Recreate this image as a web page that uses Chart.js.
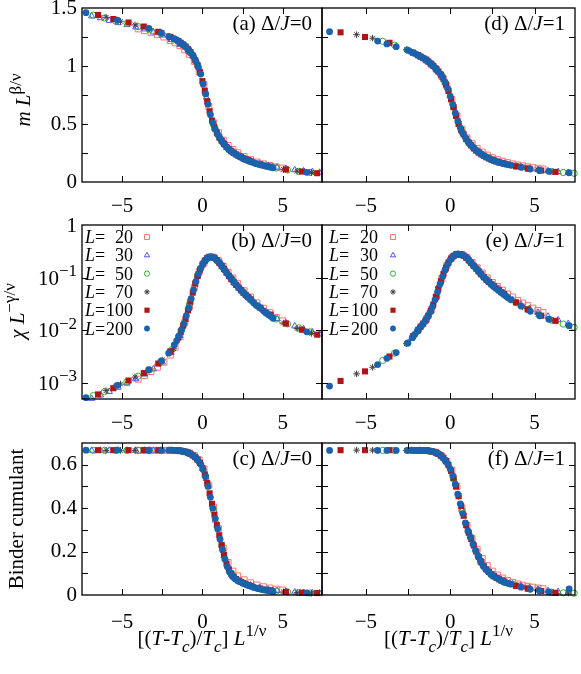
<!DOCTYPE html>
<html>
<head>
<meta charset="utf-8">
<script src="https://cdn.jsdelivr.net/npm/chart.js@4.4.1/dist/chart.umd.min.js"></script>
<style>
  html, body { margin: 0; padding: 0; background: #fff; }
  #fig { position: relative; width: 581px; height: 674px; overflow: hidden; }
  #fig canvas { position: absolute; left: 0; top: 0; }
</style>
</head>
<body>
<div id="fig">
  <canvas id="pa" width="581" height="674"></canvas>
  <canvas id="pb" width="581" height="674"></canvas>
  <canvas id="pc" width="581" height="674"></canvas>
  <canvas id="pd" width="581" height="674"></canvas>
  <canvas id="pe" width="581" height="674"></canvas>
  <canvas id="pf" width="581" height="674"></canvas>
</div>
<script>
/**
 * Finite-size scaling collapse, Delta/J = 0 (left) and Delta/J = 1 (right)
 */

// Tick values
const xTickLabels = [-5, 0, 5];
const xTickMarks = [-5, -2.5, 0, 2.5, 5];
const mTickLabels = [0, 0.5, 1, 1.5];
const mTickMarks = [0.25, 0.5, 0.75, 1, 1.25];
const chiTickLabels = [1, 0.1, 0.01, 0.001];
const chiTickMarks = [0.1, 0.01, 0.001];
const uTickLabels = [0, 0.2, 0.4, 0.6];
const uTickMarks = [0.1, 0.2, 0.3, 0.4, 0.5, 0.6];

// System sizes (legend)
const sizes = ['20', '30', '50', '70', '100', '200'];

// ---- Delta/J = 0 ----
const xs0_20 = [-4.0, -3.6, -3.2, -2.8, -2.4, -2.0, -1.7, -1.4, -1.1, -0.8, -0.5, -0.2, 0.1, 0.4, 0.7, 1.0, 1.3, 1.6, 1.9, 2.2, 2.6, 3.0, 3.4, 3.8, 4.2, 4.6, 5.0];
const m0_20 = [1.32, 1.305, 1.29, 1.27, 1.25, 1.22, 1.20, 1.175, 1.14, 1.10, 1.04, 0.95, 0.84, 0.65, 0.51, 0.425, 0.36, 0.315, 0.28, 0.252, 0.219, 0.193, 0.172, 0.156, 0.142, 0.13, 0.12];
const chi0_20 = [1.19e-3, 1.39e-3, 1.66e-3, 2.0e-3, 2.5e-3, 3.4e-3, 4.8e-3, 7.6e-3, 0.014, 0.0285, 0.065, 0.13, 0.19, 0.245, 0.245, 0.21, 0.164, 0.127, 0.099, 0.077, 0.0565, 0.043, 0.0333, 0.0263, 0.0218, 0.0176, 0.0152];
const u0_20 = [0.666, 0.666, 0.666, 0.666, 0.666, 0.666, 0.665, 0.664, 0.66, 0.654, 0.642, 0.622, 0.58, 0.505, 0.405, 0.305, 0.215, 0.15, 0.11, 0.088, 0.07, 0.056, 0.046, 0.038, 0.032, 0.027, 0.023];

const xs0_30 = [-6.9, -6.35, -5.8, -5.25, -4.7, -4.15, -3.6, -3.05, -2.5, -1.95, -1.4, -0.85, -0.3, 0.25, 0.8, 1.35, 1.9, 2.45, 3.0, 3.55, 4.1, 4.65, 5.2, 5.75, 6.3, 6.85, 7.3];
const m0_30 = [1.43, 1.414, 1.392, 1.372, 1.356, 1.335, 1.318, 1.292, 1.265, 1.227, 1.185, 1.125, 1.01, 0.73, 0.46, 0.34, 0.265, 0.218, 0.185, 0.16, 0.142, 0.127, 0.115, 0.104, 0.095, 0.088, 0.083];
const chi0_30 = [5.1e-4, 5.9e-4, 6.9e-4, 8.3e-4, 9.9e-4, 1.2e-3, 1.48e-3, 1.85e-3, 2.5e-3, 3.8e-3, 7.9e-3, 0.026, 0.108, 0.225, 0.23, 0.152, 0.093, 0.059, 0.04, 0.0286, 0.0212, 0.0166, 0.0139, 0.0121, 0.0106, 0.0093, 0.0085];
const u0_30 = [0.666, 0.666, 0.666, 0.666, 0.666, 0.666, 0.666, 0.666, 0.666, 0.666, 0.664, 0.655, 0.622, 0.535, 0.345, 0.18, 0.09, 0.06, 0.045, 0.034, 0.026, 0.02, 0.016, 0.013, 0.011, 0.01, 0.009];

const xs0_50 = [-6.8, -6.1, -5.4, -4.7, -4.0, -3.3, -2.6, -1.9, -1.3, -0.8, -0.3, 0.2, 0.7, 1.2, 1.8, 2.5, 3.2, 3.9, 4.6, 5.3, 6.0, 6.7];
const m0_50 = [1.438, 1.414, 1.387, 1.366, 1.34, 1.315, 1.28, 1.234, 1.19, 1.128, 1.01, 0.76, 0.49, 0.355, 0.265, 0.208, 0.168, 0.14, 0.12, 0.104, 0.092, 0.083];
const chi0_50 = [5.8e-4, 6.9e-4, 8.6e-4, 1.06e-3, 1.35e-3, 1.78e-3, 2.55e-3, 4.3e-3, 0.0102, 0.032, 0.108, 0.215, 0.24, 0.17, 0.098, 0.055, 0.034, 0.0228, 0.0165, 0.0133, 0.0112, 0.0094];
const u0_50 = [0.666, 0.666, 0.666, 0.666, 0.666, 0.666, 0.666, 0.666, 0.663, 0.654, 0.622, 0.548, 0.388, 0.228, 0.1, 0.058, 0.037, 0.025, 0.018, 0.014, 0.011, 0.009];

const xs0_70 = [-6.0, -5.1, -4.2, -3.3, -2.5, -1.8, -1.2, -0.7, -0.2, 0.3, 0.8, 1.3, 1.9, 2.6, 3.4, 4.2, 5.05, 5.9, 6.8];
const m0_70 = [1.42, 1.385, 1.355, 1.322, 1.282, 1.238, 1.185, 1.11, 0.97, 0.70, 0.455, 0.335, 0.258, 0.198, 0.158, 0.131, 0.109, 0.093, 0.081];
const chi0_70 = [7.2e-4, 9.6e-4, 1.3e-3, 1.78e-3, 2.75e-3, 4.5e-3, 0.0118, 0.04, 0.13, 0.235, 0.23, 0.148, 0.089, 0.05, 0.03, 0.0198, 0.0138, 0.0109, 0.0088];
const u0_70 = [0.666, 0.666, 0.666, 0.666, 0.666, 0.666, 0.662, 0.648, 0.61, 0.515, 0.352, 0.195, 0.086, 0.052, 0.031, 0.02, 0.014, 0.011, 0.009];

const xs0_100 = [-6.5, -5.55, -4.6, -3.65, -2.75, -2.0, -1.5, -1.35, -1.2, -1.05, -0.9, -0.75, -0.6, -0.45, -0.3, -0.15, 0, 0.15, 0.3, 0.45, 0.6, 0.75, 0.9, 1.05, 1.2, 1.35, 1.5, 1.65, 1.8, 1.95, 2.1, 2.25, 2.4, 2.55, 2.7, 2.85, 3.0, 3.6, 4.25, 5.2, 6.2, 7.15];
const m0_100 = [1.44, 1.405, 1.375, 1.34, 1.295, 1.25, 1.215, 1.2, 1.185, 1.168, 1.145, 1.12, 1.09, 1.05, 1.005, 0.945, 0.87, 0.785, 0.695, 0.61, 0.53, 0.47, 0.425, 0.385, 0.355, 0.327, 0.302, 0.282, 0.265, 0.25, 0.238, 0.226, 0.215, 0.205, 0.196, 0.187, 0.179, 0.153, 0.133, 0.108, 0.09, 0.076];
const chi0_100 = [6.1e-4, 8.0e-4, 1.12e-3, 1.55e-3, 2.35e-3, 4.0e-3, 7.3e-3, 9.4e-3, 0.0123, 0.0165, 0.024, 0.035, 0.052, 0.077, 0.107, 0.142, 0.177, 0.21, 0.235, 0.248, 0.248, 0.237, 0.216, 0.192, 0.168, 0.146, 0.125, 0.108, 0.094, 0.082, 0.073, 0.065, 0.058, 0.052, 0.047, 0.043, 0.039, 0.027, 0.02, 0.0135, 0.0103, 0.0083];
const u0_100 = [0.667, 0.667, 0.667, 0.667, 0.667, 0.667, 0.665, 0.664, 0.662, 0.659, 0.655, 0.65, 0.643, 0.635, 0.624, 0.608, 0.585, 0.555, 0.515, 0.468, 0.42, 0.37, 0.322, 0.275, 0.23, 0.185, 0.145, 0.118, 0.098, 0.084, 0.074, 0.066, 0.06, 0.055, 0.05, 0.046, 0.042, 0.03, 0.022, 0.014, 0.011, 0.009];

const xs0_200 = [-7.25, -5.3, -3.35, -2.55, -2.1, -1.75, -1.6, -1.45, -1.3, -1.15, -1.0, -0.85, -0.7, -0.55, -0.4, -0.25, -0.1, 0.05, 0.2, 0.35, 0.5, 0.65, 0.8, 0.95, 1.1, 1.25, 1.4, 1.55, 1.7, 1.85, 2.0, 2.15, 2.3, 2.45, 2.6, 2.75, 2.9, 3.05, 3.2, 3.35, 3.5, 3.65, 3.8, 3.95, 4.1, 4.25, 4.4, 6.5];
const m0_200 = [1.46, 1.395, 1.325, 1.285, 1.255, 1.235, 1.225, 1.21, 1.195, 1.18, 1.16, 1.14, 1.11, 1.08, 1.04, 0.99, 0.93, 0.845, 0.76, 0.67, 0.58, 0.51, 0.455, 0.41, 0.375, 0.345, 0.318, 0.295, 0.276, 0.26, 0.245, 0.233, 0.22, 0.209, 0.199, 0.19, 0.181, 0.173, 0.165, 0.158, 0.152, 0.147, 0.142, 0.137, 0.132, 0.127, 0.123, 0.083];
const chi0_200 = [5.3e-4, 9.1e-4, 1.8e-3, 2.65e-3, 3.7e-3, 5.3e-3, 6.4e-3, 7.9e-3, 0.0102, 0.0135, 0.019, 0.027, 0.04, 0.059, 0.085, 0.118, 0.152, 0.186, 0.217, 0.24, 0.25, 0.245, 0.23, 0.208, 0.184, 0.16, 0.139, 0.12, 0.104, 0.091, 0.08, 0.071, 0.063, 0.056, 0.05, 0.045, 0.041, 0.037, 0.033, 0.03, 0.028, 0.026, 0.0235, 0.0215, 0.02, 0.0185, 0.017, 0.0094];
const u0_200 = [0.667, 0.667, 0.667, 0.667, 0.667, 0.666, 0.666, 0.665, 0.663, 0.661, 0.658, 0.654, 0.648, 0.641, 0.632, 0.618, 0.602, 0.578, 0.545, 0.5, 0.45, 0.4, 0.352, 0.305, 0.257, 0.21, 0.165, 0.13, 0.105, 0.088, 0.077, 0.069, 0.062, 0.057, 0.052, 0.047, 0.043, 0.039, 0.035, 0.032, 0.029, 0.026, 0.024, 0.022, 0.02, 0.018, 0.016, 0.01];

// ---- Delta/J = 1 ----
const xs1_20 = [-1.4, -1.1, -0.8, -0.5, -0.2, 0.1, 0.4, 0.7, 1.0, 1.3, 1.6, 1.9, 2.2, 2.5, 2.8, 3.1, 3.4, 3.7, 4.0, 4.3, 4.6, 4.9, 5.2, 5.5];
const m1_20 = [1.05, 1.012, 0.968, 0.91, 0.83, 0.71, 0.57, 0.455, 0.38, 0.33, 0.29, 0.258, 0.232, 0.21, 0.193, 0.179, 0.167, 0.156, 0.147, 0.139, 0.131, 0.124, 0.118, 0.112];
const chi1_20 = [0.0165, 0.025, 0.045, 0.095, 0.17, 0.24, 0.28, 0.275, 0.24, 0.195, 0.155, 0.123, 0.099, 0.081, 0.068, 0.058, 0.049, 0.043, 0.037, 0.033, 0.0295, 0.0265, 0.024, 0.022];
const u1_20 = [0.665, 0.661, 0.654, 0.64, 0.615, 0.575, 0.5, 0.4, 0.32, 0.26, 0.21, 0.168, 0.135, 0.11, 0.092, 0.078, 0.067, 0.058, 0.051, 0.045, 0.04, 0.036, 0.032, 0.029];

const xs1_30 = [-2.3, -1.8, -1.3, -0.8, -0.3, 0.2, 0.7, 1.2, 1.7, 2.2, 2.7, 3.2, 3.7, 4.2, 4.7, 5.2, 5.8, 6.4, 7.0];
const m1_30 = [1.12, 1.085, 1.04, 0.975, 0.855, 0.645, 0.435, 0.325, 0.255, 0.21, 0.18, 0.158, 0.141, 0.128, 0.116, 0.106, 0.096, 0.088, 0.081];
const chi1_30 = [7.0e-3, 0.0115, 0.0195, 0.045, 0.145, 0.26, 0.27, 0.2, 0.13, 0.088, 0.064, 0.049, 0.038, 0.031, 0.026, 0.022, 0.0185, 0.0158, 0.0135];
const u1_30 = [0.666, 0.666, 0.664, 0.655, 0.62, 0.535, 0.39, 0.27, 0.175, 0.115, 0.083, 0.064, 0.051, 0.041, 0.033, 0.026, 0.02, 0.015, 0.012];

const xs1_50 = [-4.0, -3.3, -2.55, -1.9, -1.3, -0.8, -0.3, 0.2, 0.7, 1.2, 1.8, 2.5, 3.2, 3.9, 4.6, 5.3, 6.0, 6.7, 7.35];
const m1_50 = [1.213, 1.18, 1.14, 1.093, 1.038, 0.97, 0.855, 0.645, 0.435, 0.325, 0.245, 0.19, 0.16, 0.137, 0.117, 0.1, 0.09, 0.082, 0.075];
const chi1_50 = [2.7e-3, 3.7e-3, 5.7e-3, 9.8e-3, 0.019, 0.043, 0.14, 0.255, 0.27, 0.195, 0.118, 0.072, 0.048, 0.034, 0.025, 0.0195, 0.0157, 0.0132, 0.0114];
const u1_50 = [0.666, 0.666, 0.666, 0.666, 0.664, 0.655, 0.62, 0.535, 0.39, 0.27, 0.15, 0.088, 0.058, 0.044, 0.031, 0.02, 0.013, 0.01, 0.008];

const xs1_70 = [-5.55, -4.6, -2.6, -1.9, -1.3, -0.7, -0.1, 0.5, 1.1, 1.8, 2.6, 3.4, 4.3, 5.2, 6.1, 7.0];
const m1_70 = [1.27, 1.24, 1.14, 1.093, 1.038, 0.95, 0.785, 0.5, 0.34, 0.245, 0.186, 0.151, 0.125, 0.104, 0.089, 0.078];
const chi1_70 = [1.5e-3, 2.0e-3, 5.6e-3, 9.8e-3, 0.019, 0.065, 0.195, 0.28, 0.214, 0.118, 0.069, 0.043, 0.028, 0.0205, 0.0155, 0.0125];
const u1_70 = [0.667, 0.667, 0.666, 0.666, 0.664, 0.648, 0.598, 0.455, 0.287, 0.158, 0.087, 0.055, 0.037, 0.022, 0.013, 0.009];

const xs1_100 = [-6.5, -5.05, -3.6, -2.2, -1.9, -1.75, -1.6, -1.45, -1.3, -1.15, -1.0, -0.85, -0.7, -0.55, -0.4, -0.25, -0.1, 0.05, 0.2, 0.35, 0.5, 0.65, 0.8, 0.95, 1.1, 1.25, 1.4, 1.55, 1.7, 1.85, 2.0, 2.15, 2.3, 2.45, 2.6, 2.75, 2.9, 3.05, 3.2, 3.9, 4.6, 5.4, 6.25];
const m1_100 = [1.29, 1.25, 1.2, 1.115, 1.093, 1.08, 1.068, 1.055, 1.038, 1.02, 1.0, 0.977, 0.952, 0.925, 0.89, 0.84, 0.785, 0.715, 0.645, 0.57, 0.5, 0.45, 0.41, 0.37, 0.34, 0.315, 0.29, 0.27, 0.253, 0.238, 0.225, 0.213, 0.203, 0.193, 0.185, 0.177, 0.17, 0.164, 0.158, 0.135, 0.116, 0.099, 0.087];
const chi1_100 = [1.1e-3, 1.67e-3, 3.2e-3, 7.8e-3, 0.0102, 0.0118, 0.0135, 0.0155, 0.019, 0.0235, 0.031, 0.043, 0.061, 0.086, 0.117, 0.155, 0.195, 0.23, 0.26, 0.275, 0.28, 0.275, 0.262, 0.24, 0.214, 0.19, 0.167, 0.148, 0.131, 0.116, 0.102, 0.092, 0.083, 0.075, 0.069, 0.063, 0.058, 0.053, 0.049, 0.034, 0.025, 0.019, 0.0152];
const u1_100 = [0.667, 0.667, 0.667, 0.666, 0.666, 0.666, 0.665, 0.665, 0.664, 0.662, 0.66, 0.656, 0.65, 0.642, 0.632, 0.617, 0.598, 0.572, 0.54, 0.5, 0.455, 0.41, 0.365, 0.322, 0.287, 0.258, 0.228, 0.2, 0.175, 0.152, 0.132, 0.118, 0.106, 0.096, 0.087, 0.079, 0.073, 0.067, 0.062, 0.042, 0.029, 0.018, 0.01];

const xs1_200 = [-7.15, -4.3, -3.75, -3.2, -2.5, -2.25, -2.1, -1.95, -1.8, -1.65, -1.5, -1.35, -1.2, -1.05, -0.9, -0.75, -0.6, -0.45, -0.3, -0.15, 0, 0.15, 0.3, 0.45, 0.6, 0.75, 0.9, 1.05, 1.2, 1.35, 1.5, 1.65, 1.8, 1.95, 2.1, 2.25, 2.4, 2.55, 2.7, 2.85, 3.0, 3.15, 3.3, 3.45, 3.6, 4.2, 4.75, 5.3, 5.85, 7.05];
const m1_200 = [1.296, 1.215, 1.19, 1.167, 1.135, 1.118, 1.107, 1.096, 1.084, 1.072, 1.06, 1.044, 1.026, 1.006, 0.985, 0.96, 0.935, 0.903, 0.86, 0.805, 0.74, 0.67, 0.595, 0.525, 0.465, 0.42, 0.383, 0.35, 0.323, 0.3, 0.278, 0.261, 0.245, 0.23, 0.218, 0.206, 0.196, 0.187, 0.179, 0.171, 0.165, 0.159, 0.154, 0.149, 0.144, 0.127, 0.112, 0.1, 0.092, 0.08];
const chi1_200 = [8.8e-4, 2.25e-3, 2.95e-3, 3.8e-3, 5.8e-3, 7.3e-3, 8.4e-3, 9.8e-3, 0.0113, 0.0128, 0.0148, 0.0178, 0.022, 0.028, 0.038, 0.054, 0.076, 0.105, 0.14, 0.18, 0.218, 0.25, 0.27, 0.28, 0.278, 0.268, 0.25, 0.228, 0.2, 0.175, 0.155, 0.137, 0.121, 0.105, 0.095, 0.085, 0.077, 0.07, 0.064, 0.058, 0.053, 0.049, 0.045, 0.041, 0.038, 0.029, 0.023, 0.019, 0.0163, 0.0123];
const u1_200 = [0.666, 0.666, 0.666, 0.666, 0.666, 0.666, 0.666, 0.666, 0.666, 0.666, 0.666, 0.665, 0.664, 0.661, 0.657, 0.652, 0.645, 0.634, 0.622, 0.605, 0.58, 0.55, 0.51, 0.465, 0.42, 0.375, 0.332, 0.295, 0.265, 0.235, 0.205, 0.18, 0.158, 0.135, 0.12, 0.108, 0.097, 0.088, 0.081, 0.074, 0.067, 0.062, 0.057, 0.053, 0.05, 0.036, 0.026, 0.019, 0.014, 0.028];

// ---- styling ----
const W = 581, H = 674;
const FONT = '"Liberation Serif", "Times New Roman", serif';
const FS = 21;

const seriesStyle = [
  { pointStyle: 'rect', radius: 4.2, color: '#ff7373', fill: false },
  { pointStyle: 'triangle', radius: 3.6, color: '#5050ff', fill: false },
  { pointStyle: 'circle', radius: 3.1, color: '#30b030', fill: false },
  { pointStyle: 'star', radius: 3.3, color: '#404040', fill: false },
  { pointStyle: 'rect', radius: 4.3, color: '#b01414', fill: true },
  { pointStyle: 'circle', radius: 3.4, color: '#1a62ab', fill: true }
];

function makeDatasets(xsList, ysList) {
  return xsList.map((xs, k) => {
    const st = seriesStyle[k];
    return {
      label: 'L=' + sizes[k],
      data: xs.map((x, i) => ({ x, y: ysList[k][i] })),
      showLine: false,
      clip: false,
      order: 5 - k,
      pointStyle: st.pointStyle,
      pointRadius: st.radius,
      pointHoverRadius: st.radius,
      pointBorderColor: st.color,
      pointBackgroundColor: st.fill ? st.color : 'rgba(0,0,0,0)',
      pointBorderWidth: st.fill ? 0 : 1
    };
  });
}

function fmt(v) {
  return v < 0 ? '\u2212' + Math.abs(v) : String(v);
}

function setFont(ctx, size, italic) {
  ctx.font = (italic ? 'italic ' : '') + size + 'px ' + FONT;
}

// parts: [text, flags]; flags: i = italic, ^ = superscript, _ = subscript
function richText(ctx, parts, x, y, align, size) {
  const small = Math.round(size * 0.8);
  const segs = parts.map(([t, f = '']) => {
    const sup = f.includes('^'), sub = f.includes('_'), it = f.includes('i');
    const sz = sup || sub ? small : size;
    setFont(ctx, sz, it);
    return { t, sz, it, dy: sup ? -size * 0.42 : sub ? size * 0.33 : 0, w: ctx.measureText(t).width };
  });
  const total = segs.reduce((s, p) => s + p.w, 0);
  let cx = align === 'center' ? x - total / 2 : align === 'right' ? x - total : x;
  ctx.textAlign = 'left';
  ctx.textBaseline = 'alphabetic';
  segs.forEach(p => {
    setFont(ctx, p.sz, p.it);
    ctx.fillText(p.t, cx, y + p.dy);
    cx += p.w;
  });
}

const xTitle = [['[(', ''], ['T', 'i'], ['-', ''], ['T', 'i'], ['c', 'i_'], [')/', ''], ['T', 'i'], ['c', 'i_'], ['] ', ''], ['L', 'i'], ['1/\u03bd', '^']];

function decor(p) {
  return {
    id: 'decor',
    afterDraw(chart) {
      const { ctx, chartArea: a } = chart;
      const xs = chart.scales.x, ys = chart.scales.y;
      ctx.save();
      ctx.strokeStyle = '#000';
      ctx.fillStyle = '#000';

      // inward ticks on all four sides
      ctx.lineWidth = 1;
      ctx.beginPath();
      xTickMarks.forEach(v => {
        const px = Math.round(xs.getPixelForValue(v)) + 0.5;
        ctx.moveTo(px, a.bottom); ctx.lineTo(px, a.bottom - 6);
        ctx.moveTo(px, a.top); ctx.lineTo(px, a.top + 6);
      });
      p.yMarks.forEach(v => {
        const py = Math.round(ys.getPixelForValue(v)) + 0.5;
        ctx.moveTo(a.left, py); ctx.lineTo(a.left + 6, py);
        ctx.moveTo(a.right, py); ctx.lineTo(a.right - 6, py);
      });
      ctx.stroke();
      ctx.lineWidth = 1.3;
      ctx.strokeRect(a.left, a.top, a.right - a.left, a.bottom - a.top);

      // log tick labels
      if (p.logLabels) {
        chiTickLabels.forEach(v => {
          const py = ys.getPixelForValue(v);
          const e = Math.round(Math.log10(v));
          const parts = e === 0 ? [['1', '']] : [['10', ''], ['\u2212' + Math.abs(e), '^']];
          richText(ctx, parts, a.left - 5, py + 7, 'right', FS);
        });
      }

      // panel tag
      richText(ctx, p.tag, a.right - 10, a.top + 22, 'right', FS);

      // key
      if (p.key) {
        const [lx, nx, mx] = p.key;
        sizes.forEach((n, k) => {
          const yb = a.top + 18 + k * 18.3;
          richText(ctx, [['L', 'i'], ['=', '']], lx, yb, 'left', 18);
          setFont(ctx, 18, false);
          ctx.textAlign = 'right';
          ctx.fillText(n, nx, yb);
          const st = seriesStyle[k];
          ctx.fillStyle = st.fill ? st.color : 'rgba(0,0,0,0)';
          ctx.strokeStyle = st.color;
          ctx.lineWidth = 1;
          Chart.helpers.drawPoint(ctx, { pointStyle: st.pointStyle, radius: st.radius * 0.85, rotation: 0, borderWidth: st.fill ? 0 : 1 }, mx, yb - 6);
          ctx.fillStyle = '#000';
        });
      }

      // axis titles
      if (p.yTitle) {
        ctx.save();
        ctx.translate(p.yTitle.x, p.yTitle.y);
        ctx.rotate(-Math.PI / 2);
        richText(ctx, p.yTitle.parts, 0, 0, 'center', FS);
        ctx.restore();
      }
      if (p.xTitle) {
        richText(ctx, xTitle, (a.left + a.right) / 2, 645, 'center', FS);
      }
      ctx.restore();
    }
  };
}

function makePanel(id, p) {
  const [l, t, r, b] = p.rect;
  const isLog = p.yType === 'logarithmic';
  new Chart(document.getElementById(id), {
    type: 'scatter',
    data: { datasets: makeDatasets(p.xs, p.ys) },
    options: {
      responsive: false,
      animation: false,
      events: [],
      layout: { padding: { left: p.left ? 0 : l, top: t, right: W - r, bottom: 0 } },
      plugins: { legend: { display: false }, tooltip: { enabled: false } },
      scales: {
        x: {
          type: 'linear',
          min: p.xRange[0],
          max: p.xRange[1],
          afterFit(s) { s.height = H - b; s.paddingLeft = 0; s.paddingRight = 0; },
          afterBuildTicks(s) { s.ticks = xTickLabels.map(v => ({ value: v })); },
          ticks: {
            padding: p.xPad, color: '#000', font: { family: FONT, size: FS },
            maxRotation: 0, autoSkip: false, callback: v => fmt(v)
          },
          grid: { display: false, drawTicks: false },
          border: { display: false }
        },
        y: {
          type: p.yType,
          min: p.yRange[0],
          max: p.yRange[1],
          afterFit(s) { s.width = p.left ? l : 0; s.paddingTop = 0; s.paddingBottom = 0; },
          afterBuildTicks(s) { s.ticks = p.yLabels.map(v => ({ value: v })); },
          ticks: {
            display: p.left && !isLog, padding: 5, color: '#000',
            font: { family: FONT, size: FS }, autoSkip: false, callback: v => fmt(v)
          },
          grid: { display: false, drawTicks: false },
          border: { display: false }
        }
      }
    },
    plugins: [decor(p)]
  });
}

const L = [82, 322], R = [322, 575];
const rows = [[8, 182], [225, 399], [443, 595]];
const xRangeLeft = [-7.5, 7.45], xRangeRight = [-7.6, 7.4];

makePanel('pa', {
  rect: [L[0], rows[0][0], R[0], rows[0][1]], left: true, xRange: xRangeLeft, xPad: 12,
  yType: 'linear', yRange: [0, 1.5], yLabels: mTickLabels, yMarks: mTickMarks,
  xs: [xs0_20, xs0_30, xs0_50, xs0_70, xs0_100, xs0_200],
  ys: [m0_20, m0_30, m0_50, m0_70, m0_100, m0_200],
  tag: [['(a) \u0394/', ''], ['J', 'i'], ['=0', '']],
  yTitle: { x: 30, y: 100, parts: [['m', 'i'], [' ', ''], ['L', 'i'], ['\u03b2/\u03bd', '^']] }
});
makePanel('pb', {
  rect: [L[0], rows[1][0], R[0], rows[1][1]], left: true, xRange: xRangeLeft, xPad: 12,
  yType: 'logarithmic', yRange: [5e-4, 1], yLabels: chiTickLabels, yMarks: chiTickMarks, logLabels: true,
  xs: [xs0_20, xs0_30, xs0_50, xs0_70, xs0_100, xs0_200],
  ys: [chi0_20, chi0_30, chi0_50, chi0_70, chi0_100, chi0_200],
  tag: [['(b) \u0394/', ''], ['J', 'i'], ['=0', '']],
  key: [85, 133, 147],
  yTitle: { x: 24, y: 311, parts: [['\u03c7', 'i'], [' ', ''], ['L', 'i'], ['\u2212\u03b3/\u03bd', '^']] }
});
makePanel('pc', {
  rect: [L[0], rows[2][0], R[0], rows[2][1]], left: true, xRange: xRangeLeft, xPad: 15,
  yType: 'linear', yRange: [0, 0.7], yLabels: uTickLabels, yMarks: uTickMarks,
  xs: [xs0_20, xs0_30, xs0_50, xs0_70, xs0_100, xs0_200],
  ys: [u0_20, u0_30, u0_50, u0_70, u0_100, u0_200],
  tag: [['(c) \u0394/', ''], ['J', 'i'], ['=0', '']],
  yTitle: { x: 23, y: 519, parts: [['Binder cumulant', '']] },
  xTitle: true
});
makePanel('pd', {
  rect: [L[1], rows[0][0], R[1], rows[0][1]], left: false, xRange: xRangeRight, xPad: 12,
  yType: 'linear', yRange: [0, 1.5], yLabels: mTickLabels, yMarks: mTickMarks,
  xs: [xs1_20, xs1_30, xs1_50, xs1_70, xs1_100, xs1_200],
  ys: [m1_20, m1_30, m1_50, m1_70, m1_100, m1_200],
  tag: [['(d) \u0394/', ''], ['J', 'i'], ['=1', '']]
});
makePanel('pe', {
  rect: [L[1], rows[1][0], R[1], rows[1][1]], left: false, xRange: xRangeRight, xPad: 12,
  yType: 'logarithmic', yRange: [5e-4, 1], yLabels: chiTickLabels, yMarks: chiTickMarks,
  xs: [xs1_20, xs1_30, xs1_50, xs1_70, xs1_100, xs1_200],
  ys: [chi1_20, chi1_30, chi1_50, chi1_70, chi1_100, chi1_200],
  tag: [['(e) \u0394/', ''], ['J', 'i'], ['=1', '']],
  key: [329, 378, 393]
});
makePanel('pf', {
  rect: [L[1], rows[2][0], R[1], rows[2][1]], left: false, xRange: xRangeRight, xPad: 15,
  yType: 'linear', yRange: [0, 0.7], yLabels: uTickLabels, yMarks: uTickMarks,
  xs: [xs1_20, xs1_30, xs1_50, xs1_70, xs1_100, xs1_200],
  ys: [u1_20, u1_30, u1_50, u1_70, u1_100, u1_200],
  tag: [['(f) \u0394/', ''], ['J', 'i'], ['=1', '']],
  xTitle: true
});
</script>
</body>
</html>
